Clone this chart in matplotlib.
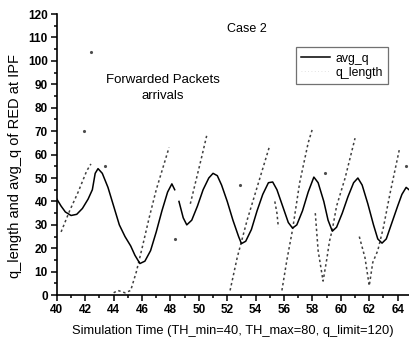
import numpy as np
import matplotlib
matplotlib.use("Agg")
import matplotlib.pyplot as plt
from matplotlib.ticker import MultipleLocator
from matplotlib.lines import Line2D

nan = np.nan

# avg_q (solid curve)
avg_t = [40.0, 40.3, 40.6, 41.0, 41.4, 41.8, 42.2, 42.5, 42.7, 42.9, 43.2, 43.6,
         44.0, 44.4, 44.8, 45.2, 45.5, 45.85, 46.2, 46.6, 47.0, 47.4, 47.8, 48.1,
         48.3, nan, 48.6, 48.9, 49.15, 49.5, 49.9, 50.3, 50.7, 51.0, 51.3, 51.6,
         52.0, 52.4, 52.8, 53.0, 53.3, 53.7, 54.1, 54.5, 54.9, 55.2, 55.5, 55.9,
         56.3, 56.6, 56.9, 57.3, 57.7, 58.1, 58.4, 58.8, 59.1, 59.4, 59.7, 60.1,
         60.5, 60.9, 61.2, 61.5, 61.9, 62.3, 62.6, 62.9, 63.2, 63.6, 64.0, 64.3,
         64.6, 64.8]
avg_q = [41, 38, 35.5, 34, 34.5, 37, 41, 45, 52, 54, 52, 46,
         38, 30, 25, 21, 17, 13.5, 14.5, 19, 27, 36, 44, 47.5,
         45, nan, 40, 33, 30, 32, 38, 45, 50, 52, 51, 47,
         40, 32, 25, 22, 23, 28, 36, 43, 48, 48.3, 45, 38,
         31, 28.6, 30, 36, 44, 50.4, 48, 40, 32, 27.3, 29, 35,
         42, 48, 50, 47, 39, 30, 24, 22.2, 24, 31, 38, 43,
         46, 45]

# q_length (dotted sawtooth)
q_t = [40.3, 40.9, 41.5, 42.1, 42.4, nan,
       44.0, 44.3, 44.8, 45.2, 45.6, 46.0, 46.5, 47.0, 47.5, 47.9, nan,
       49.4, 49.8, 50.2, 50.55, nan,
       52.2, 52.7, 53.4, 54.1, 55.0, nan,
       55.35, 55.5, 55.6, nan,
       55.85, 56.2, 56.6, 57.1, 57.7, 58.0, nan,
       58.2, 58.4, 58.75, 59.0, 59.2, 59.4, 59.7, 60.3, 61.0, nan,
       61.3, 61.7, 62.0, 62.25, 62.6, 63.0, 63.45, 64.15, nan]
q_length = [27, 36, 44, 53, 56, nan,
            1, 2, 1, 2, 10, 20, 33, 45, 55, 63, nan,
            39, 49, 59, 68, nan,
            2, 16, 32, 46, 64, nan,
            40, 35, 29, nan,
            2, 15, 28, 48, 65, 71, nan,
            35, 19, 6, 15, 23, 28, 38, 50, 67, nan,
            25, 16, 4, 14, 19, 29, 43, 63, nan]

# isolated q_length samples
spike_t = [41.9, 42.4, 43.4, 48.3, 52.9, 58.9, 64.6]
spike_v = [70, 104, 55, 24, 47, 52, 55]

plt.rcParams['font.family'] = ['Liberation Sans', 'DejaVu Sans']
fig = plt.figure(figsize=(4.09, 3.42), dpi=100)
ax = fig.add_axes([0.139, 0.137, 0.861, 0.822])

ax.plot(q_t, q_length, color="0.25", lw=1.1, linestyle=(0, (1.6, 1.8)))
ax.plot(spike_t, spike_v, linestyle="none", marker=".", ms=2.5, color="0.3")
ax.plot(avg_t, avg_q, color="black", lw=1.1)

ax.set_xlim(40, 64.8)
ax.set_ylim(0, 120)
ax.xaxis.set_major_locator(MultipleLocator(2))
ax.xaxis.set_minor_locator(MultipleLocator(1))
ax.yaxis.set_major_locator(MultipleLocator(10))
ax.yaxis.set_minor_locator(MultipleLocator(5))
ax.tick_params(which="both", direction="out", labelsize=8.5, width=1.1)
ax.tick_params(which="major", length=4, pad=2.5)
ax.tick_params(which="minor", length=2)
for lbl in ax.get_xticklabels() + ax.get_yticklabels():
    lbl.set_fontweight("bold")
ax.spines["top"].set_visible(False)
ax.spines["right"].set_visible(False)
ax.spines["left"].set_linewidth(1.2)
ax.spines["bottom"].set_linewidth(1.2)

ax.set_xlabel("Simulation Time (TH_min=40, TH_max=80, q_limit=120)",
              fontsize=9.3, labelpad=6)
ax.set_ylabel("q_length and avg_q of RED at IPF", fontsize=10.5)
ax.yaxis.set_label_coords(-0.10, 0.46)

ax.text(0.54, 0.945, "Case 2", transform=ax.transAxes, fontsize=9, ha="center", va="center")
ax.text(0.30, 0.765, "Forwarded Packets", transform=ax.transAxes, fontsize=9.5,
        ha="center", va="center")
ax.text(0.30, 0.708, "arrivals", transform=ax.transAxes, fontsize=9.5,
        ha="center", va="center")

handles = [Line2D([], [], color="black", lw=1.1),
           Line2D([], [], color="0.85", lw=0.6, linestyle=(0, (1, 3)))]
leg = ax.legend(handles, ["avg_q", "q_length"], loc="upper left",
                bbox_to_anchor=(0.678, 0.882), borderaxespad=0, fontsize=8.8,
                frameon=True, fancybox=False, edgecolor="0.3", handlelength=2.4,
                handletextpad=0.4, borderpad=0.45, labelspacing=0.15)
leg.get_frame().set_linewidth(0.9)

fig.savefig("out.png", dpi=100)
